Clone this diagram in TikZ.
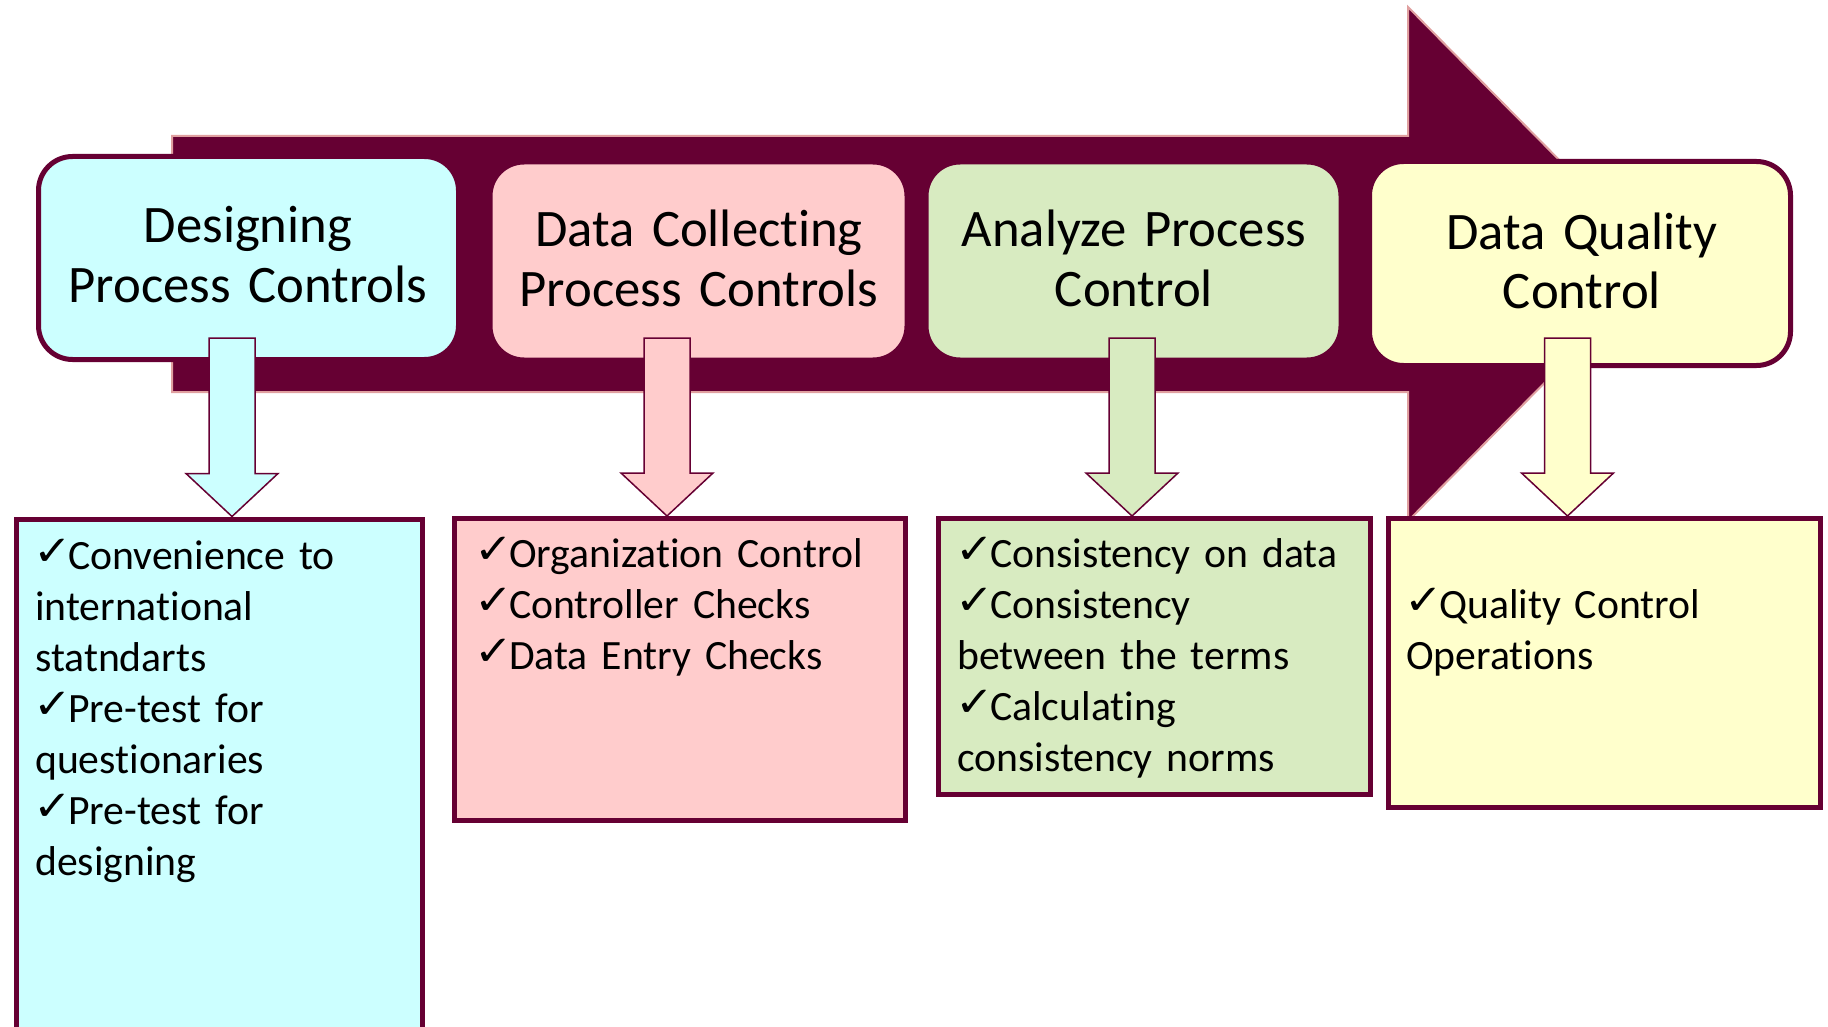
\documentclass[tikz,border=0pt]{standalone}
\usepackage{fontspec}
\setmainfont{Carlito}[Ligatures=NoCommon,WordSpace=0.85]
\newfontfamily\dejavu{DejaVu Sans}
\usetikzlibrary{calc}
\definecolor{maroon}{HTML}{660033}
\definecolor{arrowedge}{HTML}{E0A0A0}
\definecolor{fcyan}{HTML}{CCFFFF}
\definecolor{fpink}{HTML}{FFCCCC}
\definecolor{fgreen}{HTML}{D8EBC1}
\definecolor{fyellow}{HTML}{FFFFCC}
\newcommand\chk{\makebox[33pt][l]{\hspace*{-2pt}\dejavu\bfseries\fontsize{44}{44}\selectfont\raisebox{4pt}{\scalebox{1.05}[0.95]{✓}}}}
\newcommand\blockarrow[3]{%
  \path[downarrow,fill=#3] let \p1=(#1), \p2=(#2) in
    (\x1-23pt,\y1) -- (\x1+23pt,\y1) -- (\x1+23pt,\y2+43pt) -- (\x1+46pt,\y2+43pt)
    -- (\x2,\y2) -- (\x1-46pt,\y2+43pt) -- (\x1-23pt,\y2+43pt) -- cycle;}
\begin{document}
\begin{tikzpicture}[x=1pt,y=-1pt,
  topbox/.style={draw=maroon,line width=5pt,rounded corners=34pt,inner sep=0pt},
  botbox/.style={draw=maroon,line width=5pt,inner sep=0pt},
  titletext/.style={anchor=base,text width=440pt,align=center,inner sep=0pt,font=\fontsize{52.7}{59}\selectfont},
  listtext/.style={anchor=base west,text width=420pt,align=left,inner sep=0pt,font=\fontsize{41.7}{51}\selectfont},
  downarrow/.style={draw=maroon,line width=1.5pt,line join=miter}]
\useasboundingbox (0,0) rectangle (1828,1027);
\clip (0,0) rectangle (1828,1027);
\fill[white] (0,0) rectangle (1828,1027);
% big arrow
\draw[fill=maroon,draw=arrowedge,line width=2pt] (172,136) -- (1408,136) -- (1408,7) -- (1662,264) -- (1408,521) -- (1408,392) -- (172,392) -- cycle;
% top boxes
\node[topbox,fill=fcyan,minimum width=420pt,minimum height=203pt] (t1) at (248.5,258) {};
\node[topbox,fill=fpink,minimum width=417pt,minimum height=198pt] (t2) at (698.5,261) {};
\node[topbox,fill=fgreen,minimum width=415pt,minimum height=198pt] (t3) at (1133.5,261) {};
\node[topbox,fill=fyellow,minimum width=421pt,minimum height=204pt] (t4) at (1580,263.5) {};
\node[titletext] (t1a) at (248,243) {Designing\\Process Controls};
\node[titletext] (t2a) at (699,247) {Data Collecting\\Process Controls};
\node[titletext] (t3a) at (1134,247) {Analyze Process\\Control};
\node[titletext] (t4a) at (1582,249) {Data Quality\\Control};
% bottom boxes (nodes defined first for anchors)
\path (219,779.5) node[minimum width=406pt,minimum height=521pt,inner sep=0pt,outer sep=2.5pt] (b1) {};
\path (680,669.5) node[minimum width=451pt,minimum height=302pt,inner sep=0pt,outer sep=2.5pt] (b2) {};
\path (1154.5,656.5) node[minimum width=432pt,minimum height=276pt,inner sep=0pt,outer sep=2.5pt] (b3) {};
\path (1604.5,663) node[minimum width=432pt,minimum height=289pt,inner sep=0pt,outer sep=2.5pt] (b4) {};
% small arrows
\coordinate (a1top) at (232,338);
\coordinate (a2top) at (667,338);
\coordinate (a3top) at (1132,338);
\coordinate (a4top) at (1567.5,338);
\coordinate (a1tip) at (a1top |- b1.north);
\coordinate (a2tip) at (a2top |- b2.north);
\coordinate (a3tip) at (a3top |- b3.north);
\coordinate (a4tip) at (a4top |- b4.north);
\blockarrow{a1top}{a1tip}{fcyan}
\blockarrow{a2top}{a2tip}{fpink}
\blockarrow{a3top}{a3tip}{fgreen}
\blockarrow{a4top}{a4tip}{fyellow}
% bottom boxes drawn
\node[botbox,fill=fcyan,minimum width=406pt,minimum height=521pt] (b1f) at (b1) {};
\node[botbox,fill=fpink,minimum width=451pt,minimum height=302pt] (b2f) at (b2) {};
\node[botbox,fill=fgreen,minimum width=432pt,minimum height=276pt] (b3f) at (b3) {};
\node[botbox,fill=fyellow,minimum width=432pt,minimum height=289pt] (b4f) at (b4) {};
\node[listtext] (l1) at (35,569) {\chk Convenience to\\international\\statndarts\\\chk Pre-test for\\questionaries\\\chk Pre-test for\\designing};
\node[listtext] (l2) at (476,567) {\chk Organization Control\\\chk Controller Checks\\\chk Data Entry Checks};
\node[listtext] (l3) at (957,567) {\chk Consistency on data\\\chk Consistency\\between the terms\\\chk Calculating\\consistency norms};
\node[listtext] (l4) at (1406,618) {\chk Quality Control\\Operations};
\end{tikzpicture}
\end{document}
